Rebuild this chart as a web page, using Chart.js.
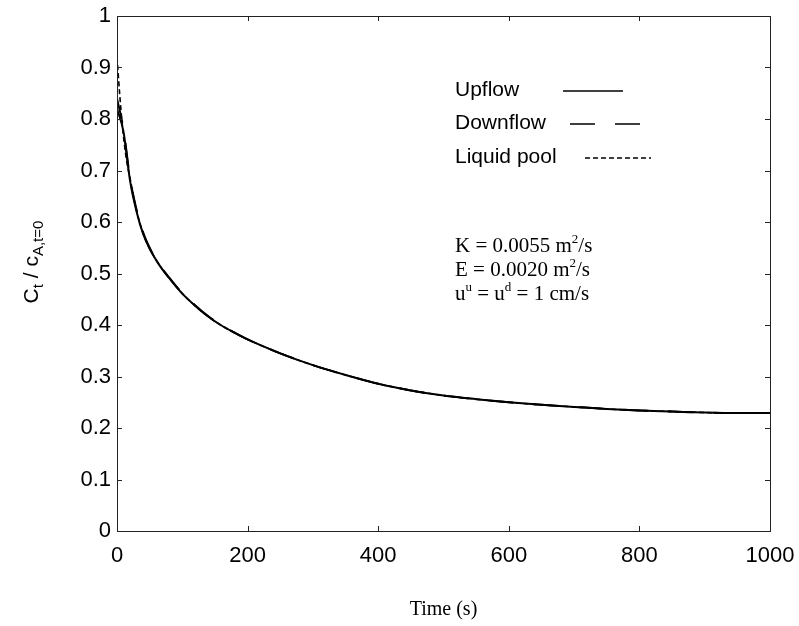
<!DOCTYPE html>
<html>
<head>
<meta charset="utf-8">
<script src="https://cdn.jsdelivr.net/npm/chart.js@4/dist/chart.umd.min.js"></script>
<style>
  html, body { margin: 0; padding: 0; background: #fff; }
  #wrap { width: 799px; height: 626px; }
</style>
</head>
<body>
<div id="wrap"><canvas id="myChart" width="799" height="626"></canvas></div>
<script>
// time axis (s)
const timeS = [0, 10, 20, 30, 40, 50, 60, 70, 80, 100, 120, 140, 160, 180, 200,
  250, 300, 350, 400, 450, 500, 550, 600, 650, 700, 750, 800, 850, 900, 950, 1000];
const upflow = [0.82, 0.775, 0.68, 0.62, 0.577, 0.548, 0.526, 0.507, 0.491, 0.461, 0.437, 0.416, 0.399, 0.385, 0.372,
  0.345, 0.322, 0.303, 0.286, 0.273, 0.263, 0.256, 0.25, 0.245, 0.241, 0.237, 0.234, 0.232, 0.23, 0.229, 0.229];
const downflow = [0.84, 0.78, 0.685, 0.624, 0.58, 0.55, 0.527, 0.508, 0.492, 0.462, 0.438, 0.417, 0.4, 0.385, 0.372,
  0.345, 0.322, 0.303, 0.286, 0.273, 0.263, 0.256, 0.25, 0.245, 0.241, 0.237, 0.234, 0.232, 0.23, 0.229, 0.229];
const timePool = [0, 4, 8, 14, 20, 30, 40, 50, 60, 70, 80, 100, 120, 140, 160, 180, 200,
  250, 300, 350, 400, 450, 500, 550, 600, 650, 700, 750, 800, 850, 900, 950, 1000];
const liquidPool = [0.92, 0.85, 0.79, 0.725, 0.685, 0.622, 0.578, 0.549, 0.526, 0.507, 0.491, 0.461, 0.437, 0.416, 0.399, 0.385, 0.372,
  0.345, 0.322, 0.303, 0.286, 0.273, 0.263, 0.256, 0.25, 0.245, 0.241, 0.237, 0.234, 0.232, 0.23, 0.229, 0.229];
const xTicks = [0, 200, 400, 600, 800, 1000];
const yTicks = [0, 0.1, 0.2, 0.3, 0.4, 0.5, 0.6, 0.7, 0.8, 0.9, 1];
const legendNames = ["Upflow", "Downflow", "Liquid pool"];

const pts = (xs, ys) => xs.map((x, i) => ({ x: x, y: ys[i] }));
const SANS = "'Liberation Sans', Arial, sans-serif";
const SERIF = "'Liberation Serif', 'Times New Roman', serif";

// draws the box, inward ticks, y title, legend and the parameter text
const decor = {
  id: "decor",
  afterDraw(chart) {
    const ctx = chart.ctx;
    const a = chart.chartArea;
    const xs = chart.scales.x, ys = chart.scales.y;
    ctx.save();
    ctx.strokeStyle = "#222";
    ctx.lineWidth = 1;
    ctx.strokeRect(a.left + 0.5, a.top + 0.5, a.right - a.left, a.bottom - a.top);
    ctx.beginPath();
    xTicks.forEach(t => {
      const px = Math.round(xs.getPixelForValue(t)) + 0.5;
      ctx.moveTo(px, a.bottom); ctx.lineTo(px, a.bottom - 5);
      ctx.moveTo(px, a.top); ctx.lineTo(px, a.top + 5);
    });
    yTicks.forEach(t => {
      const py = Math.round(ys.getPixelForValue(t)) + 0.5;
      ctx.moveTo(a.left, py); ctx.lineTo(a.left + 5, py);
      ctx.moveTo(a.right, py); ctx.lineTo(a.right - 5, py);
    });
    ctx.stroke();

    // y title: C_t / c_A,t=0
    ctx.fillStyle = "#000";
    ctx.translate(30, 262);
    ctx.rotate(-Math.PI / 2);
    ctx.textBaseline = "alphabetic";
    ctx.textAlign = "left";
    const parts = [["C", 21, 0], ["t", 15, 5], [" / c", 21, 0], ["A,t=0", 15, 5]];
    let w = 0;
    parts.forEach(p => { ctx.font = p[1] + "px " + SANS; w += ctx.measureText(p[0]).width; });
    let cx = -w / 2;
    parts.forEach(p => {
      ctx.font = p[1] + "px " + SANS;
      ctx.fillText(p[0], cx, 8 + p[2]);
      cx += ctx.measureText(p[0]).width;
    });
    ctx.restore();

    // legend
    ctx.save();
    ctx.fillStyle = "#000";
    ctx.font = "21px " + SANS;
    ctx.textBaseline = "middle";
    const rows = [90, 123, 157];
    legendNames.forEach((n, i) => ctx.fillText(n, 455, rows[i]));
    ctx.strokeStyle = "#000";
    ctx.lineWidth = 1.3;
    const ds = chart.data.datasets;
    const spans = [[563, 623], [570, 642], [585, 651]];
    ds.forEach((d, i) => {
      ctx.setLineDash(d.borderDash || []);
      ctx.beginPath();
      ctx.moveTo(spans[i][0], rows[i] + 1);
      ctx.lineTo(spans[i][1], rows[i] + 1);
      ctx.stroke();
    });
    ctx.setLineDash([]);

    // parameters text with superscripts
    const lines = [
      { y: 252, parts: [["K = 0.0055 m", 0], ["2", 1], ["/s", 0]] },
      { y: 276, parts: [["E = 0.0020 m", 0], ["2", 1], ["/s", 0]] },
      { y: 300, parts: [["u", 0], ["u", 1], [" = u", 0], ["d", 1], [" = 1 cm/s", 0]] }
    ];
    ctx.textBaseline = "alphabetic";
    lines.forEach(l => {
      let x = 455;
      l.parts.forEach(p => {
        ctx.font = (p[1] ? "13px " : "21px ") + SERIF;
        ctx.fillText(p[0], x, p[1] ? l.y - 9 : l.y);
        x += ctx.measureText(p[0]).width;
      });
    });
    ctx.restore();
  }
};

new Chart(document.getElementById("myChart"), {
  type: "line",
  data: {
    datasets: [
      { label: legendNames[0], data: pts(timeS, upflow), borderColor: "#000", borderWidth: 2, pointRadius: 0, cubicInterpolationMode: "monotone", fill: false },
      { label: legendNames[1], data: pts(timeS, downflow), borderColor: "#000", borderWidth: 2, borderDash: [25, 20], pointRadius: 0, cubicInterpolationMode: "monotone", fill: false },
      { label: legendNames[2], data: pts(timePool, liquidPool), borderColor: "#000", borderWidth: 1.6, borderDash: [5, 3], pointRadius: 0, cubicInterpolationMode: "monotone", fill: false }
    ]
  },
  options: {
    responsive: false,
    animation: false,
    layout: { padding: { top: 16, right: 29, left: 0, bottom: 0 } },
    plugins: {
      legend: { display: false },
      tooltip: { enabled: false }
    },
    scales: {
      x: {
        type: "linear",
        min: 0, max: 1000,
        afterFit(scale) { scale.height = 95; scale.paddingRight = 0; scale.paddingLeft = 0; },
        afterBuildTicks(scale) { scale.ticks = xTicks.map(v => ({ value: v })); },
        grid: { display: false, drawTicks: false },
        border: { display: false },
        ticks: { color: "#000", font: { family: SANS, size: 22 }, padding: 12, maxRotation: 0, callback: v => String(v) },
        title: { display: true, text: "Time (s)", color: "#000", font: { family: SERIF, size: 20 }, padding: { top: 22 } }
      },
      y: {
        min: 0, max: 1,
        afterFit(scale) { scale.width = 117; scale.paddingTop = 0; scale.paddingBottom = 0; },
        afterBuildTicks(scale) { scale.ticks = yTicks.map(v => ({ value: v })); },
        grid: { display: false, drawTicks: false },
        border: { display: false },
        ticks: {
          color: "#000", font: { family: SANS, size: 22 }, padding: 6,
          callback: v => (v === 0 || v === 1) ? String(v) : v.toFixed(1)
        }
      }
    }
  },
  plugins: [decor]
});
</script>
</body>
</html>
